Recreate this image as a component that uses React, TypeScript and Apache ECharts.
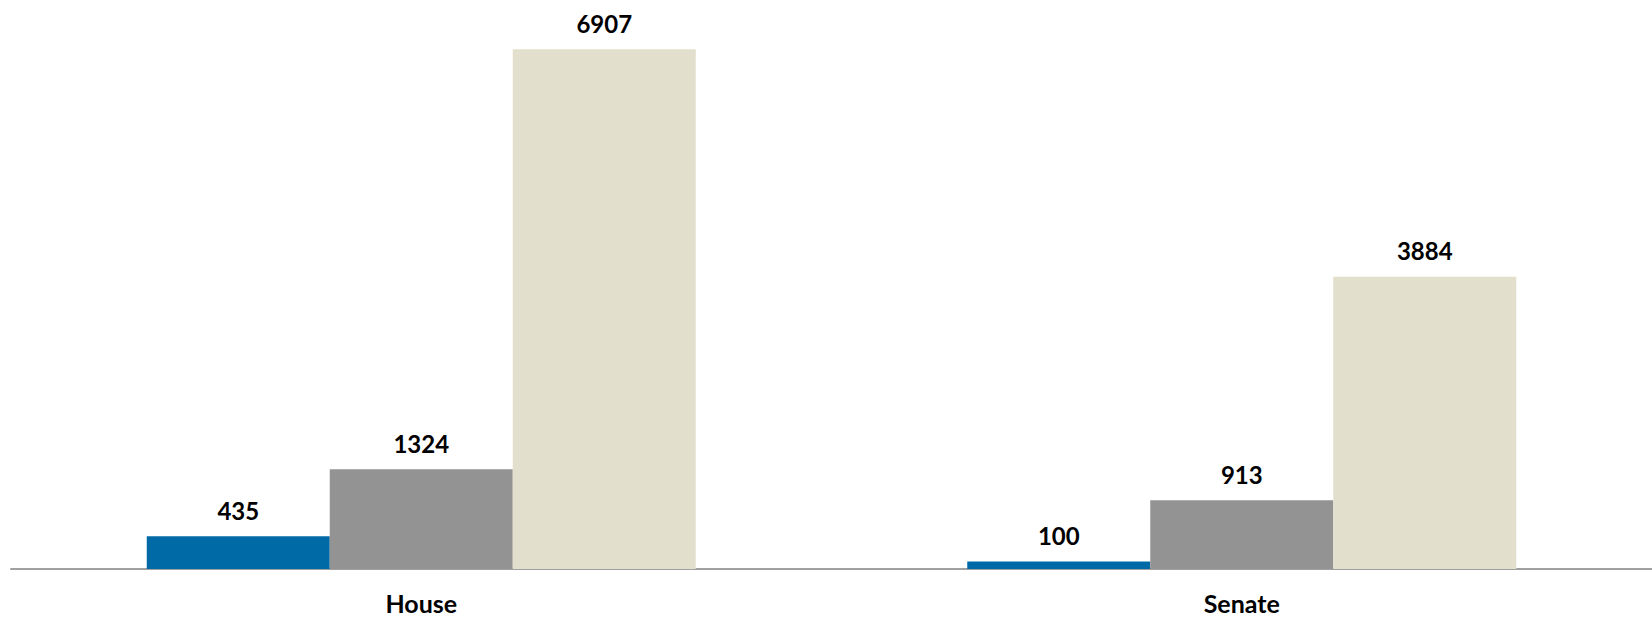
import React, { useEffect, useRef } from "react";
import * as echarts from "echarts";

const categories = ["House", "Senate"];
const seriesA = [435, 100];
const seriesB = [1324, 913];
const seriesC = [6907, 3884];
const colors = ["#006AA6", "#939393", "#E2DFCC"];

export default function App() {
  const ref = useRef<HTMLDivElement>(null);
  useEffect(() => {
    if (!ref.current) return;
    const chart = echarts.init(ref.current, null, { renderer: "svg" });
    const label = {
      show: true,
      position: "top",
      distance: 14,
      color: "#000",
      fontFamily: "Lato",
      fontWeight: "bold",
      fontSize: 24,
    };
    const mk = (data: number[], color: string) => ({
      type: "bar",
      data,
      barWidth: 183,
      barGap: "0%",
      itemStyle: { color },
      label,
    });
    chart.setOption({
      animation: false,
      grid: { left: 11, right: -6, top: 0, bottom: 48 },
      xAxis: {
        type: "category",
        data: categories,
        axisLine: { show: true, lineStyle: { color: "#A0A0A0", width: 2 } },
        axisTick: { show: false },
        axisLabel: {
          color: "#000",
          fontFamily: "Lato",
          fontWeight: "bold",
          fontSize: 25,
          margin: 21,
        },
      },
      yAxis: { type: "value", min: 0, max: 7560, show: false, splitLine: { show: false } },
      series: [mk(seriesA, colors[0]), mk(seriesB, colors[1]), mk(seriesC, colors[2])],
    });
    return () => chart.dispose();
  }, []);
  return (
    <div
      ref={ref}
      style={{ position: "absolute", left: 0, top: 0, width: 1652, height: 617 }}
    />
  );
}
